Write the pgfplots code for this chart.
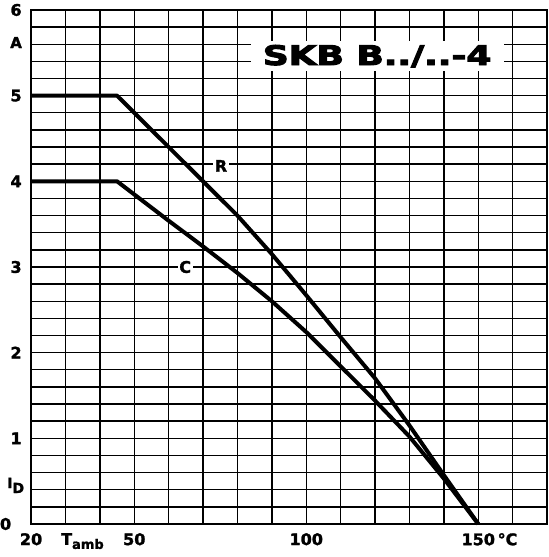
\documentclass[border=0pt]{standalone}
\usepackage{pgfplots}
\pgfplotsset{compat=1.18}
\usepackage{fontspec}
\setmainfont{DejaVu Sans}[BoldFeatures={FakeBold=1.6}]
\newfontfamily\titlefont{DejaVu Sans}[UprightFont=*-Bold, UprightFeatures={FakeBold=3.5}]
\begin{document}
\begin{tikzpicture}
\begin{axis}[
  scale only axis, width=516pt, height=514pt,
  xmin=20, xmax=170, ymin=0, ymax=6,
  xtick={20,50,100,150},
  xticklabels={20,50,100,150\rlap{\,°C}},
  minor xtick={30,40,60,70,80,90,110,120,130,140,160,170},
  ytick={0,1,2,3,4,5,6},
  yticklabels={,1,2,3,4,5,6},
  minor ytick={0.2,0.4,0.6,0.8,1.2,1.4,1.6,1.8,2.2,2.4,2.6,2.8,3.2,3.4,3.6,3.8,4.2,4.4,4.6,4.8,5.2,5.4,5.6,5.8},
  grid=both,
  major grid style={black, line width=1.4pt},
  minor grid style={black, line width=1.4pt},
  axis line style={black, line width=1.7pt},
  major tick length=0pt, minor tick length=0pt,
  tick label style={font=\fontsize{16}{17}\selectfont\bfseries},
  /pgf/number format/assume math mode=true,
  xticklabel style={anchor=north, inner sep=0pt, yshift=-9pt},
  yticklabel style={anchor=center, inner sep=0pt, xshift=-15pt},
  clip=false,
]
\path (rel axis cs:0,0) ++(-30pt,-33pt);
\path (rel axis cs:1,1) ++(1pt,10pt);

% R curve
\addplot[black, line width=4pt, line join=round] coordinates {
  (20,5) (45,5) (60,4.4) (70,4.0) (80,3.6) (90,3.15) (100,2.67)
  (110,2.18) (120,1.7) (130,1.15) (140,0.57) (150,0)
};
% C curve
\addplot[black, line width=4pt, line join=round] coordinates {
  (20,4) (45,4) (60,3.54) (70,3.24) (80,2.93) (90,2.6) (100,2.24)
  (110,1.84) (120,1.44) (130,1.02) (140,0.53) (150,0)
};

\node[fill=white, inner sep=1.5pt, font=\fontsize{16}{17}\selectfont\bfseries] at (axis cs:75.2,4.18) {R};
\node[fill=white, inner sep=1.5pt, font=\fontsize{16}{17}\selectfont\bfseries] at (axis cs:64.8,3.0) {C};

\node[fill=white, inner sep=0pt, minimum width=253pt, minimum height=30pt] at (axis cs:120.6,5.46)
  {\scalebox{1.33}[1]{\fontsize{27}{27}\titlefont SKB B../..-4}};

\node[font=\fontsize{16}{17}\selectfont\bfseries, inner sep=0pt, xshift=-25.5pt] at (axis cs:20,0) {0};
\node[font=\fontsize{15}{16}\selectfont\bfseries, inner sep=0pt, xshift=-15pt] at (axis cs:20,5.62) {A};
\node[font=\fontsize{14}{15}\selectfont\bfseries, inner sep=0pt, anchor=west, xshift=-24pt] at (axis cs:20,0.45) {I\raisebox{-5pt}{D}};
\node[font=\fontsize{16}{17}\selectfont\bfseries, inner sep=0pt, anchor=north west, yshift=-9pt] at (axis cs:28.7,0)
  {T\raisebox{-4pt}{\fontsize{13}{14}\selectfont amb}};
\end{axis}
\end{tikzpicture}
\end{document}
